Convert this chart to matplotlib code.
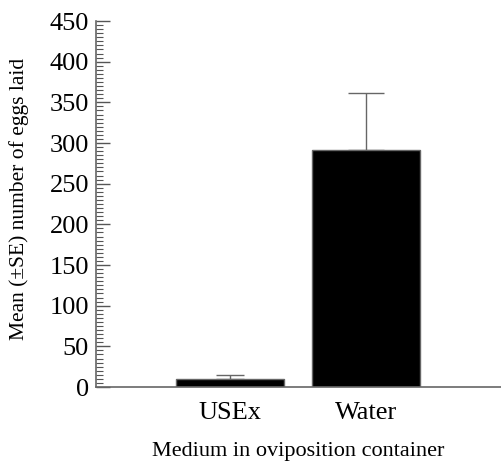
import matplotlib.pyplot as plt

categories = ["USEx", "Water"]
means = [9.5, 291]
se_upper = [5.3, 70]
cap_sizes = [10, 13]

plt.rcParams['font.family'] = ['Liberation Serif', 'DejaVu Serif']

fig = plt.figure(figsize=(5.01, 4.65), dpi=100)
ax = fig.add_axes([96/501, 1 - 387/465, 1 - 96/501, 366/465])

x = list(range(len(categories)))
ax.bar(x, means, width=0.8, color='black', edgecolor='#666666', linewidth=1.0, zorder=2)
for xi, m, e, c in zip(x, means, se_upper, cap_sizes):
    ax.errorbar([xi], [m], yerr=[[0], [e]], fmt='none', ecolor='#666666',
                elinewidth=1.0, capsize=c, capthick=1.0, zorder=1)

ax.set_xlim(-0.985, 1.993)
ax.set_ylim(0, 450)
ax.set_xticks(x)
ax.set_xticklabels(categories, fontsize=19)
ax.set_yticks(range(0, 451, 50))
ax.set_yticks(range(0, 451, 5), minor=True)
ax.tick_params(axis='y', which='major', direction='in', length=10, width=1, color='#555555', labelsize=19, pad=5)
ax.tick_params(axis='y', which='minor', direction='in', length=5, width=0.8, color='#555555')
ax.tick_params(axis='x', length=0, pad=11)

for s in ['top', 'right']:
    ax.spines[s].set_visible(False)
for s in ['left', 'bottom']:
    ax.spines[s].set_color('#666666')
    ax.spines[s].set_linewidth(1.2)

ax.set_ylabel("Mean (\u00b1SE) number of eggs laid", fontsize=15.5, labelpad=15)
ax.yaxis.label.set_y(0.515)
ax.set_xlabel("Medium in oviposition container", fontsize=16, labelpad=13)

fig.savefig("out.png", dpi=100)
